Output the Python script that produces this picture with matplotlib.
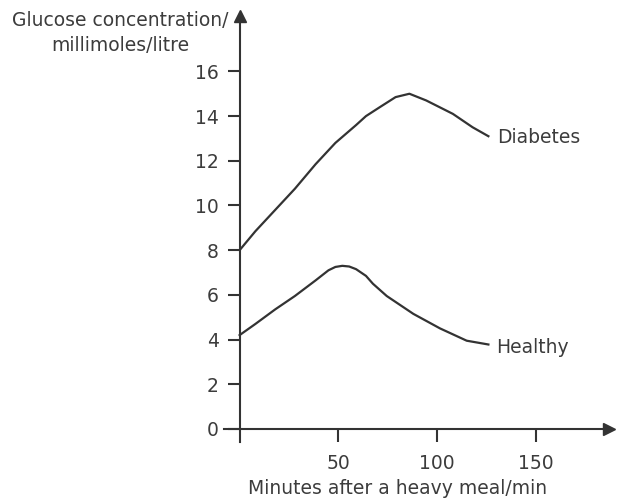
import matplotlib
matplotlib.use('Agg')
import matplotlib.pyplot as plt

# values
diabetes_t = [0, 8, 18, 28, 38.5, 48.5, 59, 64, 71, 79, 86, 94.5, 108, 118, 126]
diabetes_y = [8.0, 8.85, 9.8, 10.75, 11.85, 12.8, 13.6, 14.0, 14.4, 14.85, 15.0, 14.7, 14.1, 13.5, 13.1]

healthy_t = [0, 8, 18, 28, 38.5, 45, 48.5, 52, 55.5, 59, 64, 67.5, 74.5, 88, 101.5, 115, 126]
healthy_y = [4.2, 4.7, 5.35, 5.95, 6.65, 7.1, 7.25, 7.3, 7.27, 7.15, 6.85, 6.5, 5.95, 5.15, 4.5, 3.95, 3.78]

x_ticks = [50, 100, 150]
y_ticks = [0, 2, 4, 6, 8, 10, 12, 14, 16]

ink = '#333333'
txt = '#3c3c3c'

plt.rcParams['font.family'] = 'DejaVu Sans'
plt.rcParams['font.size'] = 13.5

fig = plt.figure(figsize=(6.2, 5.01), dpi=100)
ax = fig.add_axes([0.361, 0.117, 0.621, 0.852])

ax.plot(diabetes_t, diabetes_y, color=ink, lw=1.6, solid_joinstyle='round')
ax.plot(healthy_t, healthy_y, color=ink, lw=1.6, solid_joinstyle='round')

ax.text(130.5, 13.05, 'Diabetes', color=txt, va='center', ha='left')
ax.text(130, 3.65, 'Healthy', color=txt, va='center', ha='left')

ax.set_xlim(-8, 187)
ax.set_ylim(-0.6, 18.5)

# axes through the origin with arrow heads
for side in ['top', 'right']:
    ax.spines[side].set_visible(False)
ax.spines['left'].set_position(('data', 0))
ax.spines['bottom'].set_position(('data', 0))
for side in ['left', 'bottom']:
    ax.spines[side].set_color(ink)
    ax.spines[side].set_linewidth(1.5)
ax.plot(1, 0, '>', color=ink, ms=9, transform=ax.get_yaxis_transform(), clip_on=False)
ax.plot(0, 1, '^', color=ink, ms=9, transform=ax.get_xaxis_transform(), clip_on=False)

ax.set_xticks(x_ticks)
ax.set_yticks(y_ticks)
ax.tick_params(axis='both', colors=ink, labelcolor=txt, width=1.5, length=9, direction='out')
ax.tick_params(axis='x', pad=9)
ax.tick_params(axis='y', pad=6)

fig.text(120 / 620, 1 - 33 / 501, 'Glucose concentration/\nmillimoles/litre',
         ha='center', va='center', color=txt, linespacing=1.35)
fig.text(398 / 620, 1 - 488 / 501, 'Minutes after a heavy meal/min',
         ha='center', va='center', color=txt)

fig.savefig('out.png', dpi=100)
